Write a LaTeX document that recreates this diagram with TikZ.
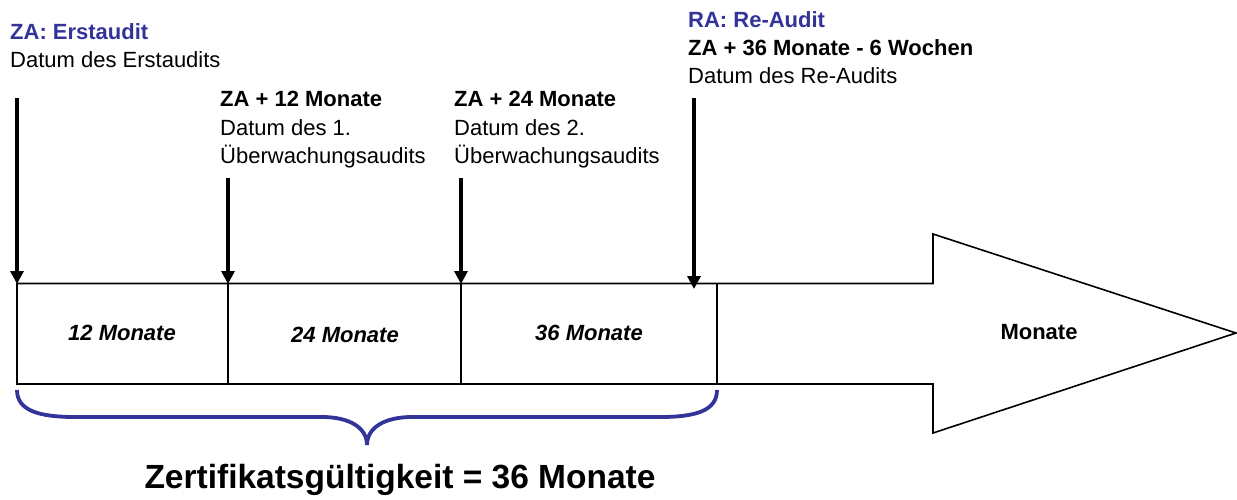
\documentclass[tikz,border=0pt]{standalone}
\usepackage{fontspec}
\setmainfont{Liberation Sans}
\usetikzlibrary{arrows.meta}
\definecolor{audblue}{RGB}{51,51,153}
\tikzset{
  lbl/.style={anchor=base west, inner sep=0pt, font=\fontsize{22}{28}\selectfont},
  lblb/.style={lbl, font=\fontsize{22}{28}\selectfont\bfseries},
  lblblue/.style={lblb, text=audblue},
  boxlbl/.style={inner sep=0pt, font=\fontsize{22}{28}\selectfont\bfseries\itshape},
  marker/.style={line width=4pt, -{Triangle[width=13pt,length=13pt]}},
  outline/.style={line width=1.6pt, line join=miter},
  divider/.style={line width=1.2pt},
  bracestyle/.style={draw=audblue, line width=3.8pt}
}
\begin{document}
\begin{tikzpicture}[x=1pt,y=-1pt]
\useasboundingbox (0,0) rectangle (1237,499);

% big block arrow
\draw[outline] (17,283.5) -- (933,283.5) -- (933,234) -- (1236,333) -- (933,433) -- (933,384) -- (17,384) -- cycle;
\draw[divider] (228,283.5) -- (228,384);
\draw[divider] (461,283.5) -- (461,384);
\draw[divider] (717,283.5) -- (717,384);

% box labels
\node[boxlbl] (m12) at (122,333) {12 Monate};
\node[boxlbl] (m24) at (345,335) {24 Monate};
\node[boxlbl] (m36) at (589,333) {36 Monate};
\node[inner sep=0pt, font=\fontsize{22}{28}\selectfont\bfseries] (mon) at (1039,332) {Monate};

% top labels
\node[lblblue] (za) at (10,39) {ZA: Erstaudit};
\node[lbl] (za2) at (10,67) {Datum des Erstaudits};

\node[lblb] (s1) at (220,106) {ZA + 12 Monate};
\node[lbl] (s1b) at (220,135) {Datum des 1.};
\node[lbl] (s1c) at (220,163) {Überwachungsaudits};

\node[lblb] (s2) at (454,106) {ZA + 24 Monate};
\node[lbl] (s2b) at (454,135) {Datum des 2.};
\node[lbl] (s2c) at (454,163) {Überwachungsaudits};

\node[lblblue] (ra) at (688,27) {RA: Re-Audit};
\node[lblb] (ra2) at (688,55) {ZA + 36 Monate - 6 Wochen};
\node[lbl] (ra3) at (688,83) {Datum des Re-Audits};

% arrow end points
\coordinate (a1s) at (17,98);   \coordinate (a1e) at (17,284);
\coordinate (a2s) at (228,178); \coordinate (a2e) at (228,284);
\coordinate (a3s) at (461,178); \coordinate (a3e) at (461,284);
\coordinate (a4s) at (694,98);  \coordinate (a4e) at (694,289);
\draw[marker] (a1s) -- (a1e);
\draw[marker] (a2s) -- (a2e);
\draw[marker] (a3s) -- (a3e);
\draw[marker] (a4s) -- (a4e);

% brace
\draw[bracestyle] (17,390) .. controls (17,411) and (40,417) .. (75,417) -- (322,417)
  .. controls (350,417) and (367,428) .. (367,445)
  .. controls (367,428) and (384,417) .. (412,417) -- (660,417)
  .. controls (695,417) and (717,411) .. (717,390);

\node[inner sep=0pt, font=\fontsize{33.5}{38}\selectfont\bfseries] (valid) at (400,480) {Zertifikatsgültigkeit = 36 Monate};
\end{tikzpicture}
\end{document}
